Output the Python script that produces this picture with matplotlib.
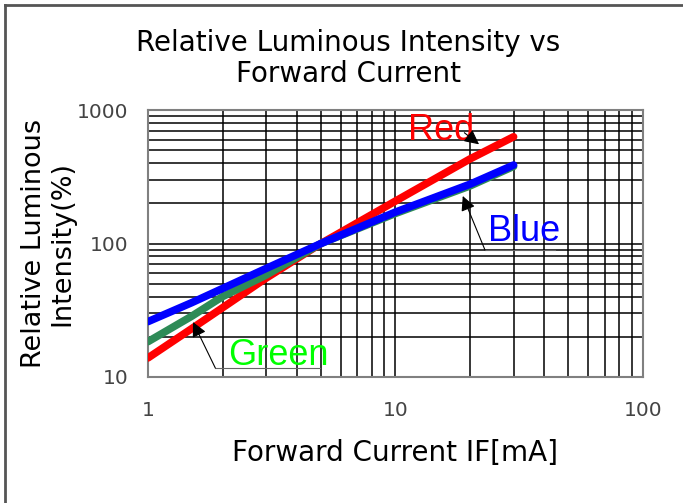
import matplotlib
matplotlib.use("Agg")
import matplotlib.pyplot as plt
from matplotlib.lines import Line2D

current = [1, 1.5, 2, 3, 5, 10, 20, 30]
red = [13.9, 23, 33, 55, 100, 208, 430, 630]
green = [18.4, 28.5, 40, 58, 100, 168, 270, 378]
blue = [26, 36, 46, 65, 100, 172, 278, 387]

x_ticks = [1, 10, 100]
x_tick_labels = ["1", "10", "100"]
y_ticks = [10, 100, 1000]
y_tick_labels = ["10", "100", "1000"]

plt.rcParams['font.family'] = ['DejaVu Sans']

fig = plt.figure(figsize=(6.83, 5.03), dpi=100)
ax = fig.add_axes([0.2167, 0.2505, 0.7247, 0.5308])
ax.set_xscale('log')
ax.set_yscale('log')
ax.set_xlim(1, 100)
ax.set_ylim(10, 1000)

ax.grid(True, which='both', color='black', linewidth=1.1)
ax.set_axisbelow(True)

ax.plot(current, red, color='#ff0000', linewidth=5.5, solid_capstyle='round', zorder=3)
ax.plot(current, green, color='#2e8b57', linewidth=5.5, solid_capstyle='round', zorder=4)
ax.plot(current, blue, color='#0000ff', linewidth=5.5, solid_capstyle='round', zorder=5)

ax.set_xticks(x_ticks)
ax.set_xticklabels(x_tick_labels)
ax.set_yticks(y_ticks)
ax.set_yticklabels(y_tick_labels)
ax.tick_params(which='both', length=0, labelsize=14.5, labelcolor='#444444')
ax.tick_params(axis='x', pad=17)
ax.tick_params(axis='y', pad=14)
for s in ax.spines.values():
    s.set_color('#808080')
    s.set_linewidth(1.5)

ax.set_xlabel('Forward Current IF[mA]', fontsize=20, labelpad=14)
ax.set_ylabel('Relative Luminous\nIntensity(%)', fontsize=19.5, linespacing=1.15)
ax.yaxis.set_label_coords(-0.146, 0.5)

fig.text(0.51, 0.884, 'Relative Luminous Intensity vs\nForward Current', ha='center',
         va='center', fontsize=20, linespacing=1.15)

# annotations
ax.text(15.3, 708, 'Red', color='#ff0000', fontsize=26, ha='center', va='center',
        family='Liberation Sans', zorder=6)
ax.annotate('', xy=(22.2, 537), xytext=(18.6, 696),
            arrowprops=dict(arrowstyle='-|>', color='black', lw=0.8, mutation_scale=22), zorder=6)

ax.text(33.0, 122, 'Blue', color='#0000ff', fontsize=26, ha='center', va='center',
        family='Liberation Sans', zorder=6)
ax.plot([23.0, 44.1], [89.3, 89.3], color='#666666', lw=0.8, zorder=6)
ax.annotate('', xy=(18.7, 227), xytext=(23.0, 89.3),
            arrowprops=dict(arrowstyle='-|>', color='black', lw=0.8, mutation_scale=22,
                            shrinkA=0, shrinkB=0), zorder=6)

ax.text(3.35, 14.6, 'Green', color='#00ff00', fontsize=26, ha='center', va='center',
        family='Liberation Sans', zorder=6)
ax.plot([1.87, 4.95], [11.7, 11.7], color='#666666', lw=0.8, zorder=6)
ax.annotate('', xy=(1.52, 25.8), xytext=(1.87, 11.7),
            arrowprops=dict(arrowstyle='-|>', color='black', lw=0.8, mutation_scale=22,
                            shrinkA=0, shrinkB=0), zorder=6)

# outer frame (top and left)
fig.add_artist(Line2D([0.007, 1.0], [0.99, 0.99], transform=fig.transFigure, color='#555555', lw=2))
fig.add_artist(Line2D([0.007, 0.007], [0.0, 0.99], transform=fig.transFigure, color='#555555', lw=2))

fig.savefig('out.png', dpi=100)
